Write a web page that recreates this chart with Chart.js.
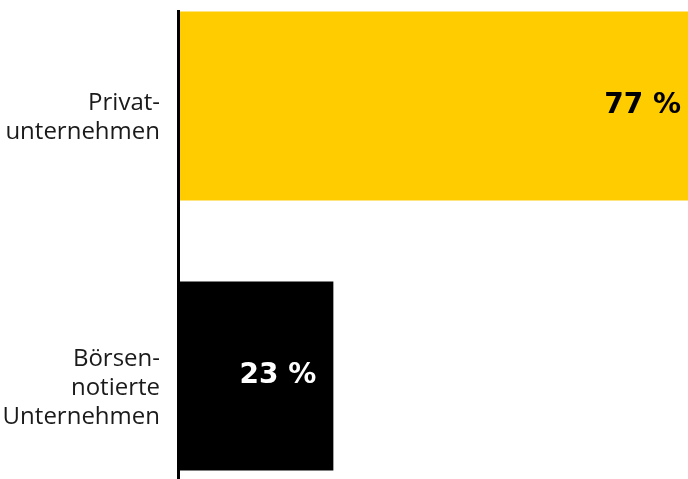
<!DOCTYPE html>
<html lang="de">
<head>
    <meta charset="UTF-8">
    <title>Privat vs. Börse</title>
    <script src="https://cdn.jsdelivr.net/npm/chart.js"></script>
    <style>
        body { margin: 0; background: #fff; }
    </style>
</head>
<body>
    <canvas id="myChart" width="688" height="479"></canvas>

    <script>
        // Daten
        var categories = [['Privat-', 'unternehmen'], ['Börsen-', 'notierte', 'Unternehmen']];
        var shares = [77, 23];
        var valueLabels = ['77 %', '23 %'];
        var barColors = ['#ffcc00', '#000000'];
        var labelColors = ['#000000', '#ffffff'];

        // Prozentwerte in die Balken schreiben
        var valueLabelPlugin = {
            id: 'valueLabels',
            afterDatasetsDraw: function (chart) {
                var ctx = chart.ctx;
                var bars = chart.getDatasetMeta(0).data;
                ctx.save();
                ctx.font = 'bold 28px "DejaVu Sans"';
                ctx.textAlign = 'right';
                ctx.textBaseline = 'middle';
                bars.forEach(function (bar, i) {
                    ctx.fillStyle = labelColors[i];
                    ctx.fillText(valueLabels[i], bar.x - 17, bar.y);
                });
                ctx.restore();
            }
        };

        var ctx = document.getElementById('myChart').getContext('2d');
        var myChart = new Chart(ctx, {
            type: 'bar',
            data: {
                labels: categories,
                datasets: [{
                    data: shares,
                    backgroundColor: barColors,
                    borderWidth: 0,
                    categoryPercentage: 1,
                    barPercentage: 0.7
                }]
            },
            options: {
                indexAxis: 'y',
                responsive: false,
                animation: false,
                layout: { padding: { top: 11, bottom: 1, left: 0, right: 0 } },
                plugins: {
                    legend: { display: false },
                    tooltip: { enabled: false }
                },
                scales: {
                    x: {
                        display: false,
                        min: 0,
                        max: 75.5
                    },
                    y: {
                        grid: { display: false, drawTicks: false },
                        border: { display: true, color: '#000', width: 3, z: 1 },
                        ticks: {
                            color: '#1a1a1a',
                            padding: 18,
                            labelOffset: 12,
                            font: { family: '"Open Sans"', size: 24, lineHeight: 1.2 }
                        },
                        // Balken oben und unten an die Achse rücken
                        afterBuildTicks: function (scale) {
                            scale._startValue = -0.352;
                            scale._valueRange = 1.7295;
                        },
                        afterFit: function (scale) {
                            scale.width = 178;
                            scale.paddingTop = 0;
                            scale.paddingBottom = 0;
                        }
                    }
                }
            },
            plugins: [valueLabelPlugin]
        });
    </script>
</body>
</html>
